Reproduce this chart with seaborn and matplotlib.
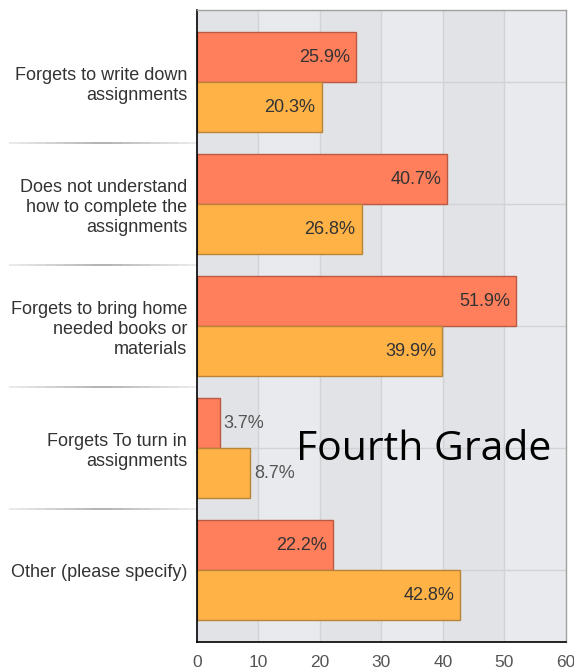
import matplotlib.pyplot as plt
import matplotlib.transforms as mtransforms
import seaborn as sns
import pandas as pd

categories = [
    "Forgets to write down\nassignments",
    "Does not understand\nhow to complete the\nassignments",
    "Forgets to bring home\nneeded books or\nmaterials",
    "Forgets To turn in\nassignments",
    "Other (please specify)",
]
series_names = ["Series 1", "Series 2"]
red_values = [25.9, 40.7, 51.9, 3.7, 22.2]
orange_values = [20.3, 26.8, 39.9, 8.7, 42.8]
x_ticks = [0, 10, 20, 30, 40, 50, 60]
overlay_text = "Fourth Grade"

df = pd.DataFrame({
    "category": categories * 2,
    "series": [series_names[0]] * len(categories) + [series_names[1]] * len(categories),
    "value": red_values + orange_values,
})

sns.set_theme(style="white")
plt.rcParams['font.family'] = ['Liberation Sans', 'DejaVu Sans']

fig = plt.figure(figsize=(5.74, 6.72), dpi=100)
ax = fig.add_axes([0.343, 0.0446, 0.643, 0.9404])

# alternating column bands + grid
for i, x0 in enumerate(x_ticks[:-1]):
    ax.axvspan(x0, x0 + 10, color="#e2e3e6" if i % 2 == 0 else "#e8eaee", zorder=0, lw=0)
for x in x_ticks[1:-1]:
    ax.axvline(x, color="#d2d3d6", lw=1, zorder=0.5)
for i in range(len(categories)):
    ax.axhline(i, color="#d2d3d6", lw=1, zorder=0.5)

palette = {series_names[0]: "#ff7f5c", series_names[1]: "#ffb347"}
sns.barplot(data=df, y="category", x="value", hue="series", orient="h",
            palette=palette, width=0.82, saturation=1, legend=False, ax=ax, zorder=2)
edge = {series_names[0]: "#b85a44", series_names[1]: "#b8843a"}
for container, name in zip(ax.containers, series_names):
    for bar in container:
        bar.set_edgecolor(edge[name])
        bar.set_linewidth(1)

# value labels
for container in ax.containers:
    for bar in container:
        v = bar.get_width()
        yc = bar.get_y() + bar.get_height() / 2
        if v > 12:
            ax.text(v - 1.0, yc, f"{v:.1f}%", ha="right", va="center",
                    fontsize=13, color="#333333", zorder=3)
        else:
            ax.text(v + 0.6, yc, f"{v:.1f}%", ha="left", va="center",
                    fontsize=13, color="#555555", zorder=3)

ax.set_xlim(0, 60)
ax.set_ylim(4.59, -0.59)
ax.set_xticks(x_ticks)
ax.set_xticklabels([str(t) for t in x_ticks], fontsize=12.5, color="#555555")
ax.set_yticks(range(len(categories)))
ax.set_yticklabels(categories, fontsize=13, color="#333333", linespacing=1.25)
ax.set_xlabel("")
ax.set_ylabel("")
ax.tick_params(axis="x", direction="out", length=5, width=1, color="black", pad=4)
ax.tick_params(axis="y", direction="out", length=4, width=1, color="black", pad=3)
for side in ["left", "bottom"]:
    ax.spines[side].set_color("black")
    ax.spines[side].set_linewidth(1.2)
for side in ["top", "right"]:
    ax.spines[side].set_color("#a0a0a0")
    ax.spines[side].set_linewidth(1)

# separators in label area
trans = mtransforms.blended_transform_factory(ax.transAxes, ax.transData)
n_seg = 20
for yb in [0.5, 1.5, 2.5, 3.5]:
    for k in range(n_seg):
        x0 = -0.51 + k * 0.51 / n_seg
        x1 = x0 + 0.51 / n_seg
        a = min(k, n_seg - 1 - k) / (n_seg / 2)
        ax.plot([x0, x1], [yb, yb], transform=trans, color="#888888",
                alpha=0.2 + 0.6 * a, lw=1.2, clip_on=False, solid_capstyle="butt")

ax.text(0.614, 0.305, overlay_text, transform=ax.transAxes, ha="center", va="center",
        fontsize=29.5, color="black", family=["Open Sans", "DejaVu Sans"], zorder=4)

fig.savefig("out.png", dpi=100)
